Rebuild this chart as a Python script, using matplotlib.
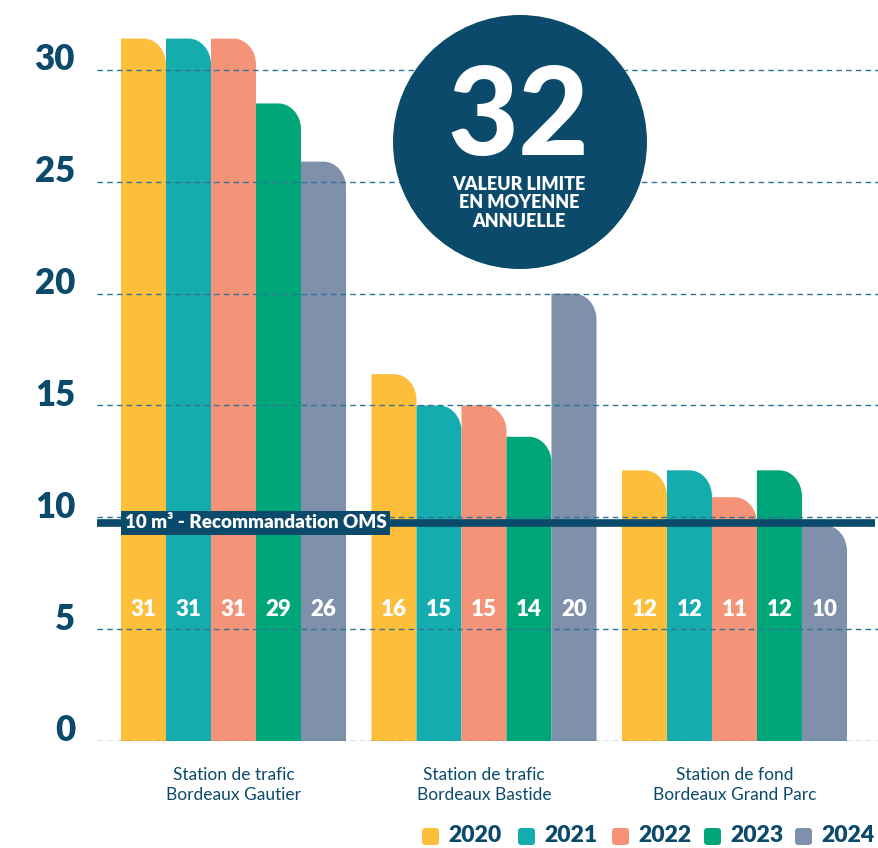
import numpy as np
import matplotlib
matplotlib.use("Agg")
import matplotlib.pyplot as plt
from matplotlib.path import Path
from matplotlib.patches import PathPatch, Ellipse, FancyBboxPatch

plt.rcParams['font.family'] = ['Lato', 'DejaVu Sans']

stations = ["Station de trafic\nBordeaux Gautier",
            "Station de trafic\nBordeaux Bastide",
            "Station de fond\nBordeaux Grand Parc"]
years = ["2020", "2021", "2022", "2023", "2024"]
colors = ["#FDBF3B", "#14ACAE", "#F59378", "#00A677", "#7E90AA"]

# valeurs (hauteur des barres)
v2020 = [31.4, 16.4, 12.1]
v2021 = [31.4, 15.0, 12.1]
v2022 = [31.4, 15.0, 10.9]
v2023 = [28.5, 13.6, 12.1]
v2024 = [25.9, 20.0, 9.65]
values = [v2020, v2021, v2022, v2023, v2024]

# etiquettes affichees dans les barres
l2020 = ["31", "16", "12"]
l2021 = ["31", "15", "12"]
l2022 = ["31", "15", "11"]
l2023 = ["29", "14", "12"]
l2024 = ["26", "20", "10"]
labels = [l2020, l2021, l2022, l2023, l2024]

oms_value = 9.75
oms_text = "10 m³ - Recommandation OMS"
limit_value = "32"
limit_text = "VALEUR LIMITE\nEN MOYENNE\nANNUELLE"
yticks = [0, 5, 10, 15, 20, 25, 30]

navy = "#0B4A6B"
W, H = 879, 848
px_per_unit = 22.37

fig = plt.figure(figsize=(W / 100, H / 100), dpi=100)
ax = fig.add_axes([97 / W, (H - 741) / H, 782 / W, (741 - 5) / H])
ax.set_ylim(0, (741 - 5) / px_per_unit)
ax.set_xlim(-0.545, 2.577)
ax.axis("off")

w = 45 / 250.5
ry = 26 / px_per_unit
k = 0.5523


def rounded_bar(x0, top, color):
    x1 = x0 + w
    rx = w / 2
    verts = [(x0, 0), (x0, top), (x1 - rx, top),
             (x1 - rx + k * rx, top), (x1, top - ry + k * ry), (x1, top - ry),
             (x1, 0), (x0, 0)]
    codes = [Path.MOVETO, Path.LINETO, Path.LINETO,
             Path.CURVE4, Path.CURVE4, Path.CURVE4,
             Path.LINETO, Path.CLOSEPOLY]
    ax.add_patch(PathPatch(Path(verts, codes), fc=color, ec="none", zorder=2))


for i, (vals, labs, c) in enumerate(zip(values, labels, colors)):
    for g in range(len(stations)):
        x0 = g + (i - 2.5) * w
        rounded_bar(x0, vals[g], c)
        ax.text(x0 + w / 2, 5.86, labs[g], color="white", fontsize=16,
                fontweight="heavy", ha="center", va="center", zorder=5)

for v in yticks:
    ax.axhline(v, color="#2F7397", lw=1, ls=(0, (4, 3)), zorder=3)
    ax.text(-0.028, v + 0.45, str(v), transform=ax.get_yaxis_transform(),
            ha="right", va="center", fontsize=25, fontweight="heavy", color=navy)

# ligne OMS
ax.plot([-0.545, 2.56], [oms_value, oms_value], color=navy, lw=5.5,
        solid_capstyle="butt", zorder=4)
ax.text(-2.5 * w + 0.014, oms_value, oms_text, color="white",
        fontsize=13.5, fontweight="heavy", ha="left", va="center", zorder=6,
        bbox=dict(boxstyle="square,pad=0.2", fc=navy, ec="none"))

for g, name in enumerate(stations):
    ax.text(g, -1.95, name, ha="center", va="center", fontsize=12.5,
            color=navy, linespacing=1.3)

# cercle valeur limite
fig.patches.append(Ellipse((520 / W, 1 - 142 / H), 254 / W, 254 / H,
                           transform=fig.transFigure, fc=navy, ec="none", zorder=5))
fig.text(518 / W, 1 - 119 / H, limit_value, color="white", fontsize=88,
         fontweight="black", ha="center", va="center", zorder=6)
fig.text(519 / W, 1 - 203 / H, limit_text, color="white", fontsize=13,
         fontweight="heavy", ha="center", va="center", zorder=6, linespacing=1.1)

# legende
leg_x = [422, 518, 612, 704, 795]
for x, yr, c in zip(leg_x, years, colors):
    fig.patches.append(FancyBboxPatch((x / W, 1 - 845 / H), 17 / W, 17 / H,
                                      boxstyle="round,pad=0,rounding_size=0.004",
                                      transform=fig.transFigure, fc=c, ec="none"))
    fig.text((x + 26) / W, 1 - 836 / H, yr, color=navy, fontsize=16.5,
             fontweight="heavy", ha="left", va="center")

fig.savefig("out.png", dpi=100)
